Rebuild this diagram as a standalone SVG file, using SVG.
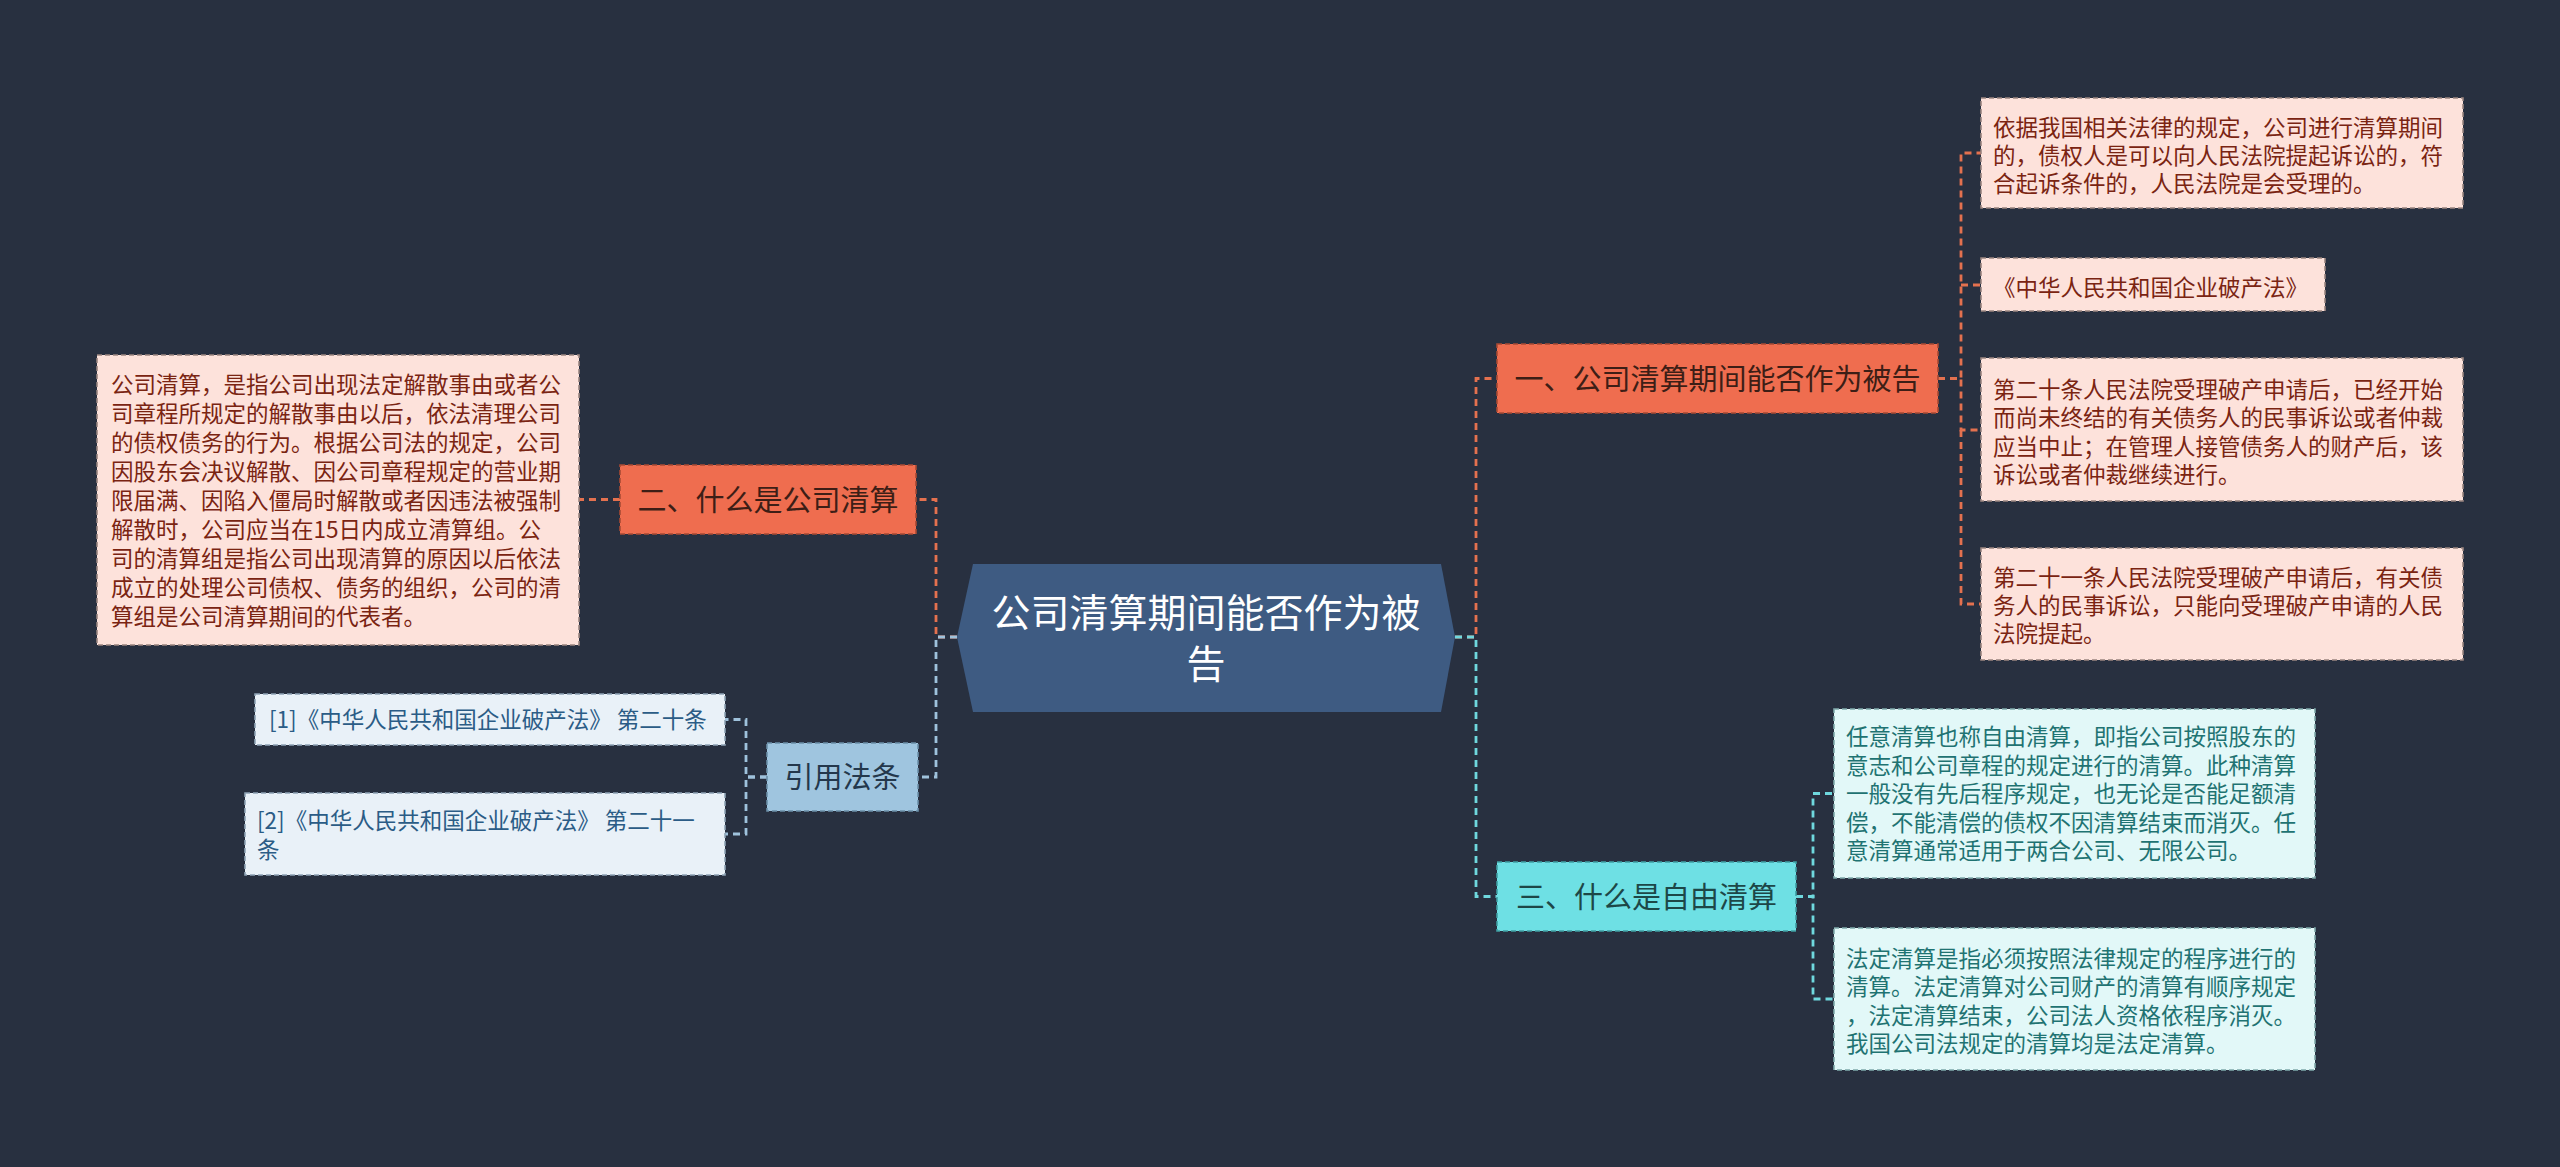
<svg xmlns="http://www.w3.org/2000/svg" width="2560" height="1167" viewBox="0 0 2560 1167">
<style>
text{font-family:"Noto Sans CJK SC","Noto Sans",sans-serif}
.conn{fill:none;stroke-width:2.8;stroke-dasharray:7 5}
.c-coral{stroke:#e4714f}
.c-cyan{stroke:#6fd8de}
.c-blue{stroke:#9fc2dc}
.bd{stroke-width:1.6;stroke-dasharray:5 3}
.main{font-size:29px;text-anchor:middle}
.leaf{font-size:22.5px}
.lc{fill:#fde2db;stroke:#9a8580}
.lct{fill:#7a2412}
.ly{fill:#e2f8f8;stroke:#7fa9aa}
.lyt{fill:#1f7372}
.lb{fill:#e9f1f8;stroke:#8ea3b5}
.lbt{fill:#2b5c86}
</style>
<rect x="0" y="0" width="2560" height="1167" fill="#283040"/>
<g id="connectors">
<path class="conn c-coral" d="M957,637 H936 V499.5 H916"/>
<path class="conn c-blue" d="M957,637 H936 V777 H918"/>
<path class="conn c-coral" d="M1455,637 H1476 V378.5 H1497"/>
<path class="conn c-cyan" d="M1455,637 H1476 V896.5 H1497"/>
<path class="conn c-coral" d="M1938,378.5 H1961 V153 H1981"/>
<path class="conn c-coral" d="M1961,285 H1981"/>
<path class="conn c-coral" d="M1938,378.5 H1961 V430 H1981"/>
<path class="conn c-coral" d="M1961,430 V604 H1981"/>
<path class="conn c-coral" d="M620,499.5 H579"/>
<path class="conn c-cyan" d="M1796,896.5 H1813 V793.5 H1834"/>
<path class="conn c-cyan" d="M1796,896.5 H1813 V999 H1834"/>
<path class="conn c-blue" d="M767,777 H746 V719.5 H725"/>
<path class="conn c-blue" d="M767,777 H746 V834 H725"/>
</g>
<g id="root">
<polygon points="973,564 1441,564 1455,637 1441,712 973,712 957,637" fill="#3e5b82"/>
<text x="1206" y="627" font-size="39" fill="#ffffff" text-anchor="middle">公司清算期间能否作为被</text>
<text x="1206" y="678" font-size="39" fill="#ffffff" text-anchor="middle">告</text>
</g>
<g id="node1">
<rect class="bd" x="1497" y="344" width="441" height="69" fill="#ef6d4f" stroke="#a84a34"/>
<text class="main" x="1717.5" y="389.5" fill="#3d1e16">一、公司清算期间能否作为被告</text>
</g>
<g id="node2">
<rect class="bd" x="620" y="465" width="296" height="69" fill="#ef6d4f" stroke="#a84a34"/>
<text class="main" x="768" y="510.5" fill="#3d1e16">二、什么是公司清算</text>
</g>
<g id="node3">
<rect class="bd" x="1497" y="862" width="299" height="69" fill="#6ee0e4" stroke="#3f9fa3"/>
<text class="main" x="1646.5" y="907.5" fill="#1d4747">三、什么是自由清算</text>
</g>
<g id="node4">
<rect class="bd" x="767" y="743" width="151" height="68" fill="#9fc5df" stroke="#6b8fa8"/>
<text class="main" x="842.5" y="788" fill="#24384c">引用法条</text>
</g>
<g id="leaf1a">
<rect class="bd lc" x="1981" y="98" width="482" height="110"/>
<text class="leaf lct" x="1993" y="135.5">依据我国相关法律的规定，公司进行清算期间</text>
<text class="leaf lct" x="1993" y="163.5">的，债权人是可以向人民法院提起诉讼的，符</text>
<text class="leaf lct" x="1993" y="191.5">合起诉条件的，人民法院是会受理的。</text>
</g>
<g id="leaf1b">
<rect class="bd lc" x="1981" y="258" width="344" height="53"/>
<text class="leaf lct" x="1993" y="295.5">《中华人民共和国企业破产法》</text>
</g>
<g id="leaf1c">
<rect class="bd lc" x="1981" y="358" width="482" height="143"/>
<text class="leaf lct" x="1993" y="397.5">第二十条人民法院受理破产申请后，已经开始</text>
<text class="leaf lct" x="1993" y="426">而尚未终结的有关债务人的民事诉讼或者仲裁</text>
<text class="leaf lct" x="1993" y="454.5">应当中止；在管理人接管债务人的财产后，该</text>
<text class="leaf lct" x="1993" y="483">诉讼或者仲裁继续进行。</text>
</g>
<g id="leaf1d">
<rect class="bd lc" x="1981" y="548" width="482" height="112"/>
<text class="leaf lct" x="1993" y="585.5">第二十一条人民法院受理破产申请后，有关债</text>
<text class="leaf lct" x="1993" y="613.5">务人的民事诉讼，只能向受理破产申请的人民</text>
<text class="leaf lct" x="1993" y="641.5">法院提起。</text>
</g>
<g id="leaf2">
<rect class="bd lc" x="97" y="355" width="482" height="290"/>
<text class="leaf lct" x="111" y="392.5">公司清算，是指公司出现法定解散事由或者公</text>
<text class="leaf lct" x="111" y="421.5">司章程所规定的解散事由以后，依法清理公司</text>
<text class="leaf lct" x="111" y="450.5">的债权债务的行为。根据公司法的规定，公司</text>
<text class="leaf lct" x="111" y="479.5">因股东会决议解散、因公司章程规定的营业期</text>
<text class="leaf lct" x="111" y="508.5">限届满、因陷入僵局时解散或者因违法被强制</text>
<text class="leaf lct" x="111" y="537.5">解散时，公司应当在15日内成立清算组。公</text>
<text class="leaf lct" x="111" y="566.5">司的清算组是指公司出现清算的原因以后依法</text>
<text class="leaf lct" x="111" y="595.5">成立的处理公司债权、债务的组织，公司的清</text>
<text class="leaf lct" x="111" y="624.5">算组是公司清算期间的代表者。</text>
</g>
<g id="leaf3a">
<rect class="bd ly" x="1834" y="709" width="481" height="169"/>
<text class="leaf lyt" x="1846" y="745">任意清算也称自由清算，即指公司按照股东的</text>
<text class="leaf lyt" x="1846" y="773.5">意志和公司章程的规定进行的清算。此种清算</text>
<text class="leaf lyt" x="1846" y="802">一般没有先后程序规定，也无论是否能足额清</text>
<text class="leaf lyt" x="1846" y="830.5">偿，不能清偿的债权不因清算结束而消灭。任</text>
<text class="leaf lyt" x="1846" y="859">意清算通常适用于两合公司、无限公司。</text>
</g>
<g id="leaf3b">
<rect class="bd ly" x="1834" y="928" width="481" height="142"/>
<text class="leaf lyt" x="1846" y="966.5">法定清算是指必须按照法律规定的程序进行的</text>
<text class="leaf lyt" x="1846" y="995">清算。法定清算对公司财产的清算有顺序规定</text>
<text class="leaf lyt" x="1846" y="1023.5">，法定清算结束，公司法人资格依程序消灭。</text>
<text class="leaf lyt" x="1846" y="1052">我国公司法规定的清算均是法定清算。</text>
</g>
<g id="leaf4a">
<rect class="bd lb" x="255" y="694" width="470" height="51"/>
<text class="leaf lbt" x="269" y="728">[1]《中华人民共和国企业破产法》 第二十条</text>
</g>
<g id="leaf4b">
<rect class="bd lb" x="245" y="793" width="480" height="82"/>
<text class="leaf lbt" x="257" y="828.5">[2]《中华人民共和国企业破产法》 第二十一</text>
<text class="leaf lbt" x="257" y="857.5">条</text>
</g>
</svg>
